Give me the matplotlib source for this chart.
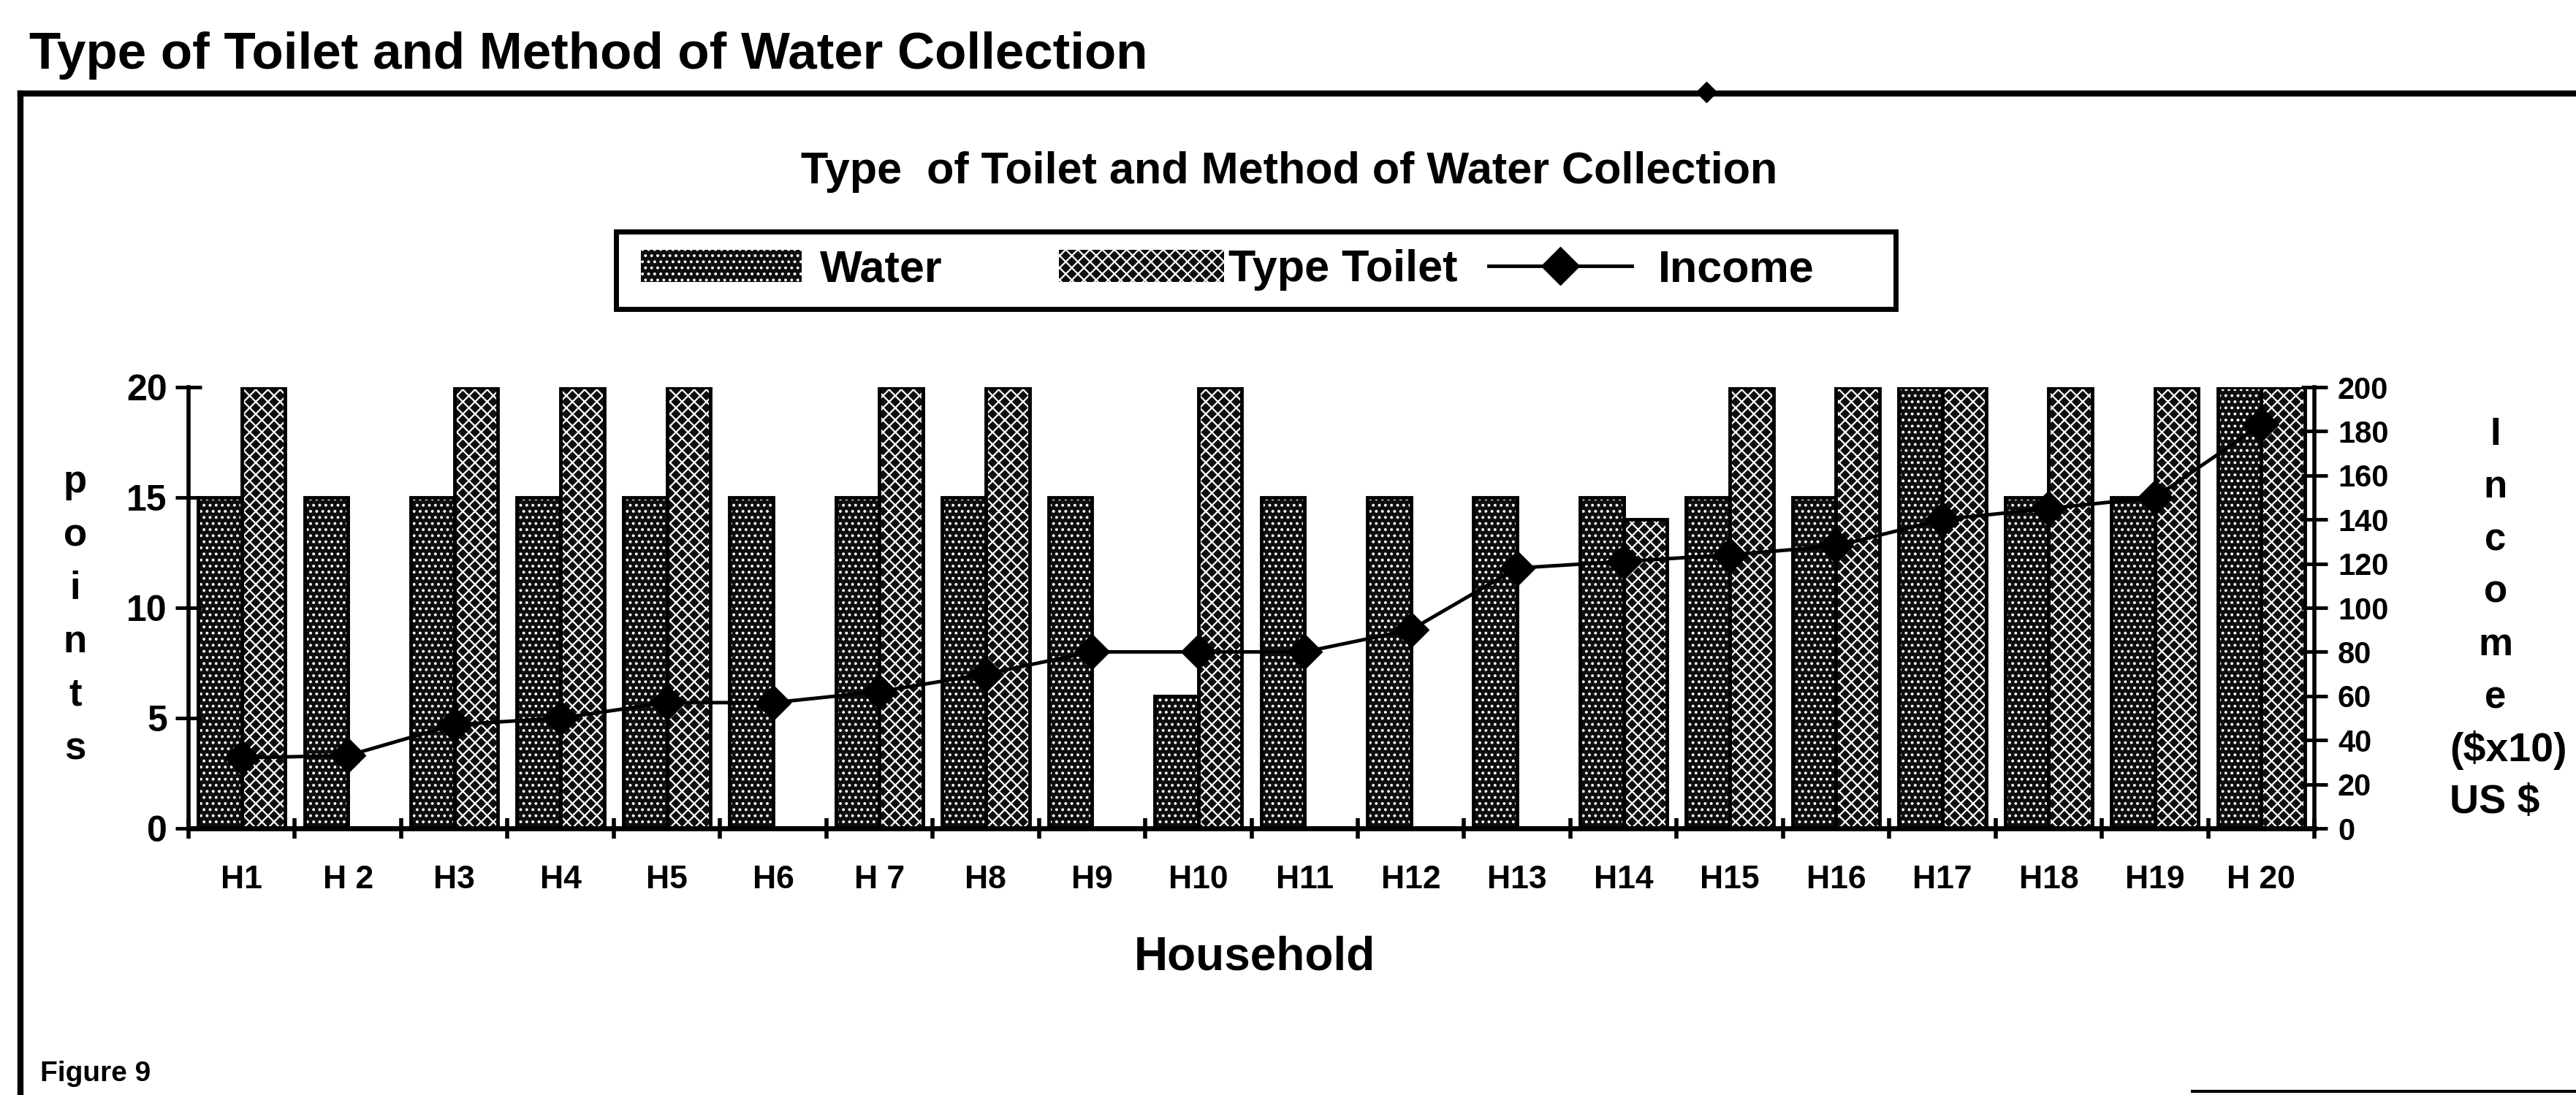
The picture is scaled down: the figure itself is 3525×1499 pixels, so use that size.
import matplotlib
matplotlib.use("Agg")
import matplotlib.pyplot as plt
from matplotlib.patches import Patch, Rectangle
from matplotlib.lines import Line2D
import numpy as np

# ---------------- data ----------------
households = ["H1", "H 2", "H3", "H4", "H5", "H6", "H 7", "H8", "H9", "H10",
              "H11", "H12", "H13", "H14", "H15", "H16", "H17", "H18", "H19", "H 20"]
water = [15, 15, 15, 15, 15, 15, 15, 15, 15, 6,
         15, 15, 15, 15, 15, 15, 20, 15, 15, 20]
toilet = [20, 0, 20, 20, 20, 0, 20, 20, 0, 20,
          0, 0, 0, 14, 20, 20, 20, 20, 20, 20]
income = [32, 33, 47, 50, 57, 57, 62, 70, 80, 80,
          80, 90, 118, 121, 124, 128, 140, 145, 150, 183]
left_ticks = [0, 5, 10, 15, 20]
right_ticks = [0, 20, 40, 60, 80, 100, 120, 140, 160, 180, 200]
left_label_letters = ["p", "o", "i", "n", "t", "s"]
right_label_lines = ["I", "n", "c", "o", "m", "e", "($x10)", "US $"]
outer_title = "Type of Toilet and Method of Water Collection"
inner_title = "Type  of Toilet and Method of Water Collection"

# ---------------- style ----------------
plt.rcParams["font.family"] = ["Liberation Sans", "DejaVu Sans"]
plt.rcParams["font.weight"] = "bold"
plt.rcParams["hatch.linewidth"] = 1.6

W, H = 3525, 1499
fig = plt.figure(figsize=(W / 100, H / 100), dpi=100)
fig.patch.set_facecolor("white")

def fx(px):
    return px / W

def fy(py):
    return 1 - py / H

ax_l, ax_r, ax_t, ax_b = 258, 3167, 530, 1134
ax = fig.add_axes([fx(ax_l), fy(ax_b), fx(ax_r) - fx(ax_l), fy(ax_t) - fy(ax_b)])
ax2 = ax.twinx()

n = len(households)
x = np.arange(n)
bw = 0.41
water_kw = dict(facecolor="#0e0e0e", edgecolor="white", linewidth=0, hatch="..")
toilet_kw = dict(facecolor="#0e0e0e", edgecolor="white", linewidth=0, hatch="xx")

ax.bar(x + 0.5 - bw, water, width=bw, align="edge", **water_kw)
ax.bar(x + 0.5, toilet, width=bw, align="edge", **toilet_kw)
ax.bar(x + 0.5 - bw, water, width=bw, align="edge", fill=False, edgecolor="black", linewidth=3.5)
ax.bar(x + 0.5, toilet, width=bw, align="edge", fill=False, edgecolor="black", linewidth=3.5)

ax2.plot(x + 0.5, income, color="black", linewidth=3.5, marker="D", markersize=24,
         markerfacecolor="black", markeredgecolor="black", zorder=5)

ax.set_xlim(0, n)
ax.set_ylim(0, 20)
ax2.set_ylim(0, 200)

for a in (ax, ax2):
    a.spines["top"].set_visible(False)
    a.set_facecolor("none")
ax.spines["left"].set_linewidth(4)
ax.spines["bottom"].set_linewidth(5)
ax.spines["right"].set_visible(False)
ax2.spines["left"].set_visible(False)
ax2.spines["bottom"].set_visible(False)
ax2.spines["right"].set_linewidth(4)

ax.set_yticks(left_ticks)
ax.set_yticklabels([str(v) for v in left_ticks], fontsize=36, fontweight="bold")
ax.tick_params(axis="y", direction="inout", length=26, width=3.5, pad=8)

ax2.set_yticks(right_ticks)
ax2.set_yticklabels([str(v) for v in right_ticks], fontsize=30, fontweight="bold")
ax2.tick_params(axis="y", direction="inout", length=26, width=3.5, pad=10)

ax.set_xticks(np.arange(n + 1))
ax.set_xticklabels([])
ax.tick_params(axis="x", which="major", direction="inout", length=20, width=4)
ax.set_xticks(x + 0.5, minor=True)
ax.set_xticklabels(households, minor=True, fontsize=32, fontweight="bold")
ax.tick_params(axis="x", which="minor", length=0, pad=36)

# axis titles as stacked letters
for i, ch in enumerate(left_label_letters):
    fig.text(fx(103), fy(660 + i * 73), ch, fontsize=38, fontweight="bold",
             ha="center", va="center")
for i, t in enumerate(right_label_lines):
    if i < 6:
        fig.text(fx(3415), fy(595 + i * 72), t, fontsize=38, fontweight="bold",
                 ha="center", va="center")
    else:
        fig.text(fx(3352), fy(595 + i * 72), t, fontsize=40, fontweight="bold",
                 ha="left", va="center")

fig.text(fx(1717), fy(1310), "Household", fontsize=46, fontweight="bold",
         ha="center", va="center")

# titles
fig.text(fx(40), fy(76), outer_title, fontsize=51, fontweight="bold", ha="left", va="center")
fig.text(fx(1764), fy(236), inner_title, fontsize=44, fontweight="bold", ha="center", va="center")
fig.text(fx(55), fy(1470), "Figure 9", fontsize=28, fontweight="bold", ha="left", va="center")

# outer frame
fig.add_artist(Line2D([fx(28), fx(W)], [fy(128), fy(128)], color="black", linewidth=6))
fig.add_artist(Line2D([fx(28), fx(28)], [fy(128), fy(H)], color="black", linewidth=6))
fig.add_artist(Line2D([fx(2335)], [fy(126)], color="black", marker="D", markersize=14))
fig.add_artist(Line2D([fx(3000), fx(W)], [fy(1494), fy(1494)], color="black", linewidth=3))

# legend
fig.add_artist(Rectangle((fx(843), fy(423)), fx(2594) - fx(843), fy(317) - fy(423),
                         transform=fig.transFigure, fill=False, edgecolor="black", linewidth=5))
leg_y = fy(370)
h_water = Patch(**water_kw)
h_toilet = Patch(**toilet_kw)
h_income = Line2D([], [], color="black", linewidth=3.5, marker="D", markersize=26)
specs = [(h_water, "Water", 877, 3.6, 0.4),
         (h_toilet, "Type Toilet", 1449, 3.7, 0.1),
         (h_income, "Income", 2037, 3.2, 0.6)]
for handle, label, px, hl, tp in specs:
    lg = fig.legend([handle], [label], loc="center left", bbox_to_anchor=(fx(px), leg_y),
                    bbox_transform=fig.transFigure, frameon=False, borderpad=0,
                    borderaxespad=0, handlelength=hl, handleheight=0.74,
                    handletextpad=tp, prop={"size": 44, "weight": "bold"})
    for p in lg.get_patches():
        p.set_edgecolor("white")

fig.savefig("out.png", dpi=100, facecolor="white")
